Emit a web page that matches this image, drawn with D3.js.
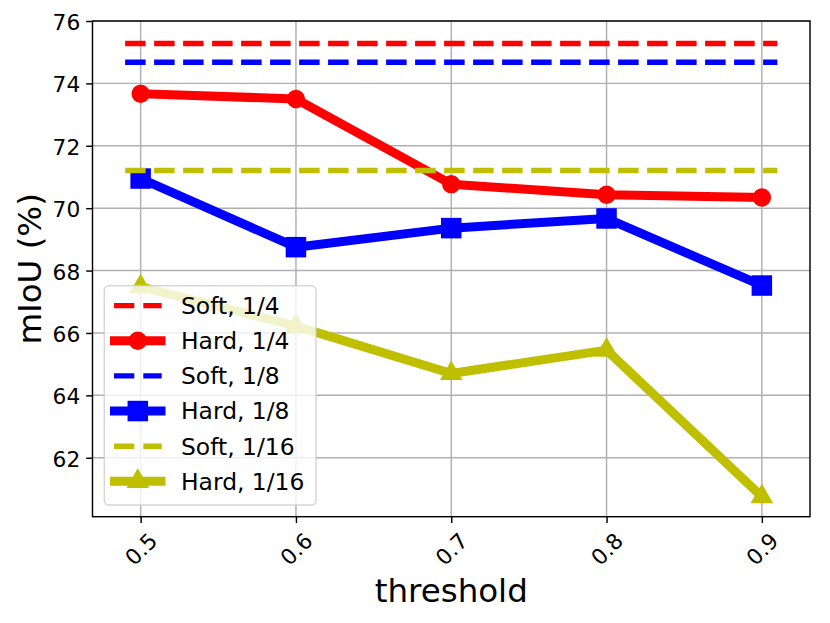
<!DOCTYPE html>
<html>
<head>
<meta charset="utf-8">
<script src="https://cdn.jsdelivr.net/npm/d3@7"></script>
<style>
  body { margin: 0; background: #fff; }
  text { font-family: "DejaVu Sans", sans-serif; fill: #000; }
</style>
</head>
<body>
<div id="chart"></div>
<script>
// data
var thresholds = [0.5, 0.6, 0.7, 0.8, 0.9];
var xTicks = [0.5, 0.6, 0.7, 0.8, 0.9];
var yTicks = [62, 64, 66, 68, 70, 72, 74, 76];

var hard14 = [73.67, 73.5, 70.77, 70.43, 70.34];
var hard18 = [70.95, 68.75, 69.36, 69.67, 67.52];
var hard116 = [67.48, 66.22, 64.7, 65.45, 60.75];

var soft14 = 75.28;
var soft18 = 74.68;
var soft116 = 71.21;
var softSpan = [0.49, 0.91];

var labels = ["Soft, 1/4", "Hard, 1/4", "Soft, 1/8", "Hard, 1/8", "Soft, 1/16", "Hard, 1/16"];

var red = "#ff0000", blue = "#0000ff", olive = "#bfbf00";

var series = [
  { type: "soft", value: soft14, color: red },
  { type: "hard", values: hard14, color: red, marker: "circle" },
  { type: "soft", value: soft18, color: blue },
  { type: "hard", values: hard18, color: blue, marker: "square" },
  { type: "soft", value: soft116, color: olive },
  { type: "hard", values: hard116, color: olive, marker: "triangle" }
];

var svgWidth = 830;
var svgHeight = 623;

var plot = { left: 92.5, right: 810, top: 21, bottom: 516.7 };

var svg = d3.select("#chart")
  .append("svg")
  .attr("width", svgWidth)
  .attr("height", svgHeight);

var x = d3.scaleLinear().domain([0.469, 0.931]).range([plot.left, plot.right]);
var y = d3.scaleLinear().domain([60.11, 76.0]).range([plot.bottom, plot.top]);

// grid
var grid = svg.append("g");
grid.selectAll(".gx")
  .data(xTicks)
  .enter()
  .append("line")
  .attr("x1", d => x(d)).attr("x2", d => x(d))
  .attr("y1", plot.top).attr("y2", plot.bottom)
  .attr("stroke", "#b0b0b0").attr("stroke-width", 1.45);
grid.selectAll(".gy")
  .data(yTicks)
  .enter()
  .append("line")
  .attr("x1", plot.left).attr("x2", plot.right)
  .attr("y1", d => y(d)).attr("y2", d => y(d))
  .attr("stroke", "#b0b0b0").attr("stroke-width", 1.45);

// marker shapes
var markerSize = { circle: 8.3, square: 18.7, triangle: 11.3 };
function drawMarker(g, kind, cx, cy, color) {
  if (kind === "circle") {
    g.append("circle").attr("cx", cx).attr("cy", cy).attr("r", markerSize.circle)
      .attr("fill", color).attr("stroke", color).attr("stroke-width", 1.8);
  } else if (kind === "square") {
    var s = markerSize.square;
    g.append("rect").attr("x", cx - s / 2).attr("y", cy - s / 2)
      .attr("width", s).attr("height", s)
      .attr("fill", color).attr("stroke", color).attr("stroke-width", 1.8);
  } else {
    var r = markerSize.triangle;
    var pts = [[cx, cy - r], [cx - r * 0.866, cy + r * 0.5], [cx + r * 0.866, cy + r * 0.5]];
    g.append("polygon").attr("points", pts.map(p => p.join(",")).join(" "))
      .attr("fill", color).attr("stroke", color).attr("stroke-width", 1.8)
      .attr("stroke-linejoin", "miter");
  }
}

// lines
var line = d3.line()
  .x((d, i) => x(thresholds[i]))
  .y(d => y(d));

var linesGroup = svg.append("g");
series.forEach(function(s) {
  if (s.type === "soft") {
    linesGroup.append("line")
      .attr("x1", x(softSpan[0])).attr("x2", x(softSpan[1]))
      .attr("y1", y(s.value)).attr("y2", y(s.value))
      .attr("stroke", s.color)
      .attr("stroke-width", 5.4)
      .attr("stroke-dasharray", "20.5,8.5");
  } else {
    var g = linesGroup.append("g");
    g.append("path")
      .datum(s.values)
      .attr("d", line)
      .attr("fill", "none")
      .attr("stroke", s.color)
      .attr("stroke-width", 9)
      .attr("stroke-linejoin", "round")
      .attr("stroke-linecap", "square");
    s.values.forEach(function(v, i) {
      drawMarker(g, s.marker, x(thresholds[i]), y(v), s.color);
    });
  }
});

// axes
var bottomAxis = d3.axisBottom(x).tickValues(xTicks).tickSize(6.3).tickPadding(6).tickFormat(d3.format(".1f"));
var leftAxis = d3.axisLeft(y).tickValues(yTicks).tickSize(6.3).tickPadding(6).tickFormat(d3.format("d"));

var xAxisG = svg.append("g")
  .attr("transform", `translate(0, ${plot.bottom})`)
  .call(bottomAxis);
xAxisG.select(".domain").remove();
xAxisG.selectAll(".tick line").attr("stroke", "#000").attr("stroke-width", 1.45);
xAxisG.selectAll(".tick text")
  .attr("y", 0).attr("dy", null)
  .attr("transform", "translate(0, 32.5) rotate(-45)")
  .attr("text-anchor", "middle")
  .attr("dominant-baseline", "central")
  .style("font-size", "21.7px")
  .style("font-family", "DejaVu Sans");

var yAxisG = svg.append("g")
  .attr("transform", `translate(${plot.left}, 0)`)
  .call(leftAxis);
yAxisG.select(".domain").remove();
yAxisG.selectAll(".tick line").attr("stroke", "#000").attr("stroke-width", 1.45);
yAxisG.selectAll(".tick text")
  .attr("dy", "0.39em")
  .style("font-size", "21.7px")
  .style("font-family", "DejaVu Sans");

// spines
svg.append("rect")
  .attr("x", plot.left).attr("y", plot.top)
  .attr("width", plot.right - plot.left)
  .attr("height", plot.bottom - plot.top)
  .attr("fill", "none")
  .attr("stroke", "#000")
  .attr("stroke-width", 1.45);

// axis labels
svg.append("text")
  .attr("x", (plot.left + plot.right) / 2)
  .attr("y", 602.3)
  .attr("text-anchor", "middle")
  .style("font-size", "32.5px")
  .text("threshold");

svg.append("text")
  .attr("transform", `translate(41, ${(plot.top + plot.bottom) / 2}) rotate(-90)`)
  .attr("text-anchor", "middle")
  .style("font-size", "32.5px")
  .text("mIoU (%)");

// legend
var legend = svg.append("g");
legend.append("rect")
  .attr("x", 104.3).attr("y", 285.7)
  .attr("width", 211.7).attr("height", 219.3)
  .attr("rx", 4.7).attr("ry", 4.7)
  .attr("fill", "#fff").attr("fill-opacity", 0.8)
  .attr("stroke", "#cccccc").attr("stroke-opacity", 0.8)
  .attr("stroke-width", 1.45);

var rowY = d => 305.6 + d * 35.15;
series.forEach(function(s, i) {
  var ry = rowY(i);
  var row = legend.append("g");
  if (s.type === "soft") {
    row.append("line")
      .attr("x1", 114).attr("x2", 161.7)
      .attr("y1", ry).attr("y2", ry)
      .attr("stroke", s.color)
      .attr("stroke-width", 5.4)
      .attr("stroke-dasharray", "20.3,9");
  } else {
    row.append("line")
      .attr("x1", 114.5).attr("x2", 161)
      .attr("y1", ry).attr("y2", ry)
      .attr("stroke", s.color)
      .attr("stroke-width", 9)
      .attr("stroke-linecap", "square");
    drawMarker(row, s.marker, 137.8, ry, s.color);
  }
  row.append("text")
    .attr("x", 181)
    .attr("y", ry)
    .attr("dy", "0.36em")
    .style("font-size", "23.4px")
    .text(labels[i]);
});
</script>
</body>
</html>
